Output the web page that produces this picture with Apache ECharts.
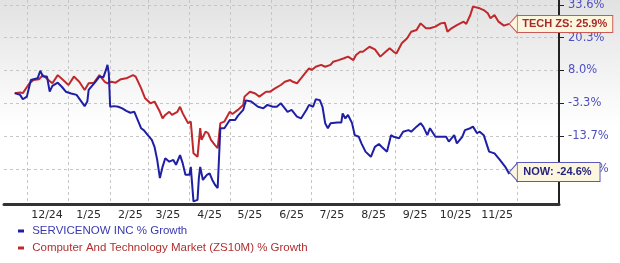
<!DOCTYPE html>
<html>
<head>
<meta charset="utf-8">
<script src="https://cdn.jsdelivr.net/npm/echarts@6/dist/echarts.min.js"></script>
<style>
html,body{margin:0;padding:0;background:#fff;}
#chart{width:620px;height:263px;}
</style>
</head>
<body>
<div id="chart"></div>
<script>
// ---------------- data ----------------
const yTickValues = [-23.2, -13.7, -3.3, 8.0, 20.3, 33.6];
const yTickLabels = ['-23.2%', '-13.7%', '-3.3%', '8.0%', '20.3%', '33.6%'];

const nowName = 'SERVICENOW INC % Growth';
const techName = 'Computer And Technology Market (ZS10M) % Growth';

const nowDates = ['2024-11-22','2024-11-26','2024-11-28','2024-12-01','2024-12-04','2024-12-06','2024-12-09','2024-12-11','2024-12-13','2024-12-16','2024-12-18','2024-12-20','2024-12-24','2024-12-27','2024-12-30','2025-01-03','2025-01-07','2025-01-13','2025-01-15','2025-01-16','2025-01-21','2025-01-24','2025-01-27','2025-01-29','2025-01-30','2025-01-31','2025-02-01','2025-02-04','2025-02-07','2025-02-10','2025-02-13','2025-02-16','2025-02-19','2025-02-22','2025-02-24','2025-02-26','2025-03-01','2025-03-04','2025-03-06','2025-03-08','2025-03-10','2025-03-12','2025-03-14','2025-03-17','2025-03-20','2025-03-22','2025-03-25','2025-03-27','2025-03-29','2025-04-01','2025-04-02','2025-04-04','2025-04-07','2025-04-08','2025-04-09','2025-04-11','2025-04-14','2025-04-16','2025-04-18','2025-04-20','2025-04-22','2025-04-24','2025-04-27','2025-05-01','2025-05-05','2025-05-07','2025-05-11','2025-05-13','2025-05-17','2025-05-22','2025-05-26','2025-05-29','2025-06-02','2025-06-05','2025-06-08','2025-06-11','2025-06-13','2025-06-16','2025-06-20','2025-06-23','2025-06-27','2025-06-29','2025-07-02','2025-07-04','2025-07-07','2025-07-09','2025-07-11','2025-07-13','2025-07-15','2025-07-20','2025-07-23','2025-07-24','2025-07-26','2025-07-28','2025-07-31','2025-08-02','2025-08-05','2025-08-07','2025-08-10','2025-08-14','2025-08-17','2025-08-20','2025-08-22','2025-08-26','2025-08-29','2025-08-31','2025-09-04','2025-09-07','2025-09-11','2025-09-13','2025-09-17','2025-09-20','2025-09-22','2025-09-25','2025-09-27','2025-10-01','2025-10-05','2025-10-09','2025-10-11','2025-10-15','2025-10-17','2025-10-21','2025-10-23','2025-10-27','2025-10-29','2025-11-01','2025-11-03','2025-11-06','2025-11-08','2025-11-10','2025-11-14','2025-11-18','2025-11-22','2025-11-25'];
const nowValues = [0.2,-0.4,-1.9,-1.0,4.7,5.0,5.3,7.9,5.9,5.9,0.7,2.7,3.8,2.4,0.7,0.1,-0.4,-4.2,-2.7,1.3,4.1,5.9,5.7,8.4,10.1,7.0,-4.4,-4.2,-4.4,-4.9,-5.7,-6.3,-6.0,-9.1,-11.2,-11.8,-13.4,-14.8,-16.8,-20.6,-25.7,-22.6,-20.1,-21.1,-20.6,-22.0,-19.2,-21.6,-24.8,-24.8,-22.6,-32.0,-31.6,-25.7,-22.6,-26.2,-24.8,-24.4,-26.2,-27.5,-28.4,-11.2,-11.2,-8.6,-8.6,-7.3,-5.4,-2.3,-2.7,-4.4,-4.9,-3.8,-4.4,-4.4,-3.3,-4.9,-6.0,-5.4,-7.5,-8.1,-5.4,-3.8,-4.4,-1.9,-2.2,-4.4,-9.6,-11.2,-9.6,-9.4,-9.4,-6.5,-8.1,-7.0,-9.6,-13.4,-13.9,-15.8,-18.2,-19.7,-16.8,-16.0,-16.8,-18.2,-13.4,-13.9,-14.3,-12.3,-11.8,-12.3,-10.7,-9.6,-10.7,-13.4,-11.2,-13.9,-13.9,-13.9,-15.3,-13.4,-15.8,-13.9,-11.8,-11.2,-10.7,-12.8,-12.3,-13.4,-15.8,-18.2,-18.7,-20.6,-22.6,-24.6];

const techDates = ['2024-11-22','2024-11-26','2024-11-28','2024-12-03','2024-12-06','2024-12-10','2024-12-13','2024-12-17','2024-12-20','2024-12-24','2024-12-28','2025-01-01','2025-01-05','2025-01-09','2025-01-13','2025-01-16','2025-01-20','2025-01-24','2025-01-28','2025-01-30','2025-02-02','2025-02-05','2025-02-09','2025-02-13','2025-02-18','2025-02-20','2025-02-24','2025-02-27','2025-03-03','2025-03-06','2025-03-10','2025-03-12','2025-03-14','2025-03-17','2025-03-19','2025-03-23','2025-03-25','2025-03-27','2025-03-31','2025-04-02','2025-04-04','2025-04-07','2025-04-08','2025-04-09','2025-04-10','2025-04-13','2025-04-15','2025-04-17','2025-04-20','2025-04-22','2025-04-24','2025-04-27','2025-05-01','2025-05-03','2025-05-07','2025-05-11','2025-05-12','2025-05-16','2025-05-20','2025-05-23','2025-05-28','2025-05-31','2025-06-04','2025-06-08','2025-06-11','2025-06-15','2025-06-17','2025-06-20','2025-06-23','2025-06-27','2025-06-29','2025-07-01','2025-07-04','2025-07-08','2025-07-11','2025-07-15','2025-07-17','2025-07-21','2025-07-25','2025-07-28','2025-08-01','2025-08-03','2025-08-06','2025-08-08','2025-08-13','2025-08-17','2025-08-21','2025-08-25','2025-08-28','2025-08-31','2025-09-02','2025-09-06','2025-09-10','2025-09-13','2025-09-17','2025-09-20','2025-09-24','2025-09-27','2025-10-01','2025-10-05','2025-10-08','2025-10-10','2025-10-13','2025-10-17','2025-10-22','2025-10-24','2025-10-27','2025-10-29','2025-11-03','2025-11-06','2025-11-09','2025-11-11','2025-11-14','2025-11-17','2025-11-21','2025-11-25'];
const techValues = [0.2,0.4,0.2,3.6,4.7,5.0,6.4,4.7,3.6,6.4,4.7,3.0,5.9,4.1,1.3,3.6,3.8,6.4,4.1,3.6,4.1,3.8,5.0,5.3,6.4,5.9,1.9,-1.6,-3.3,-2.7,-6.0,-8.1,-7.0,-6.0,-7.0,-6.0,-4.4,-6.5,-9.6,-9.1,-18.7,-19.7,-19.2,-11.2,-14.8,-12.3,-12.8,-14.8,-16.3,-17.2,-9.6,-9.1,-6.0,-6.7,-5.4,-3.8,-1.0,0.7,0.1,-1.0,0.7,0.7,1.9,3.0,4.1,4.7,4.1,3.6,5.3,7.6,8.8,8.2,9.4,10.1,9.4,10.1,11.3,11.9,12.6,13.2,11.9,13.8,15.0,15.0,16.9,15.9,13.2,15.0,16.3,15.0,14.4,18.2,20.1,22.7,23.4,26.1,24.1,24.1,24.8,26.1,26.4,22.7,24.1,25.4,26.8,25.9,29.5,32.9,32.2,31.5,30.2,28.2,29.5,26.8,25.2,25.9];

// ---------------- helpers ----------------
function fmt(d) {
  const m = d.getUTCMonth() + 1, day = d.getUTCDate();
  return d.getUTCFullYear() + '-' + (m < 10 ? '0' : '') + m + '-' + (day < 10 ? '0' : '') + day;
}
const cats = [];
for (let t = Date.UTC(2024, 10, 14); t <= Date.UTC(2026, 0, 1); t += 86400000) cats.push(fmt(new Date(t)));

// map a growth % onto the chart's (non-uniform) tick scale: one unit per labelled tick
function toUnit(g) {
  const T = yTickValues;
  if (g <= T[0]) return (g - T[0]) / 8.9;
  if (g >= T[T.length - 1]) return T.length - 1 + (g - T[T.length - 1]) / 14;
  for (let i = 0; i < T.length - 1; i++) {
    if (g <= T[i + 1]) return i + (g - T[i]) / (T[i + 1] - T[i]);
  }
}
const tickIdx = yTickValues.map((v, i) => i);

const nowData = nowDates.map((d, i) => [d, toUnit(nowValues[i])]);
const techData = techDates.map((d, i) => [d, toUnit(techValues[i])]);
const nowLast = nowValues[nowValues.length - 1];
const techLast = techValues[techValues.length - 1];

const BLUE = '#1f1fa6', RED = '#c0282c', CREAM = '#fdf6df';

function notch(border, data, dy) {
  const last = data[data.length - 1];
  return {
    silent: true, animation: false,
    symbol: 'triangle', symbolSize: [18, 8], symbolRotate: 90, symbolOffset: [4, dy],
    itemStyle: { color: CREAM, borderColor: border, borderWidth: 1 },
    label: { show: false },
    data: [{ coord: [last[0], last[1]] }]
  };
}

const chart = echarts.init(document.getElementById('chart'), null, { renderer: 'canvas' });
chart.setOption({
  animation: false,
  backgroundColor: {
    type: 'linear', x: 0, y: 0, x2: 0, y2: 1,
    colorStops: [{ offset: 0, color: '#e2e2e2' }, { offset: 0.48, color: '#ffffff' }, { offset: 1, color: '#ffffff' }]
  },
  grid: { left: 4, right: 61, top: 0, bottom: 59, containLabel: false, outerBoundsMode: 'none' },
  legend: {
    orient: 'vertical', left: 18, top: 224, padding: 0, itemGap: 3,
    icon: 'rect', itemWidth: 6, itemHeight: 3,
    formatter: (n) => ' ' + n,
    textStyle: { fontFamily: 'Liberation Sans, Arial', fontSize: 11.5, lineHeight: 14 },
    data: [
      { name: nowName, textStyle: { color: '#3a3ab0' } },
      { name: techName, textStyle: { color: '#b03030' } }
    ]
  },
  xAxis: {
    type: 'category', data: cats, boundaryGap: false,
    axisLine: { show: true, onZero: false, lineStyle: { color: '#333', width: 3 } },
    axisTick: { show: false },
    axisLabel: {
      interval: (i, v) => v.slice(8) === '16' && v >= '2024-12-01' && v <= '2025-11-30',
      formatter: (v) => (+v.slice(5, 7)) + '/' + v.slice(2, 4),
      color: '#2a2a2a', fontFamily: 'DejaVu Sans', fontSize: 11, margin: 6
    },
    splitLine: {
      show: true,
      interval: (i, v) => v.slice(8) === '01',
      lineStyle: { color: '#c6c6c6', type: [3, 3], width: 1 }
    }
  },
  yAxis: {
    type: 'value', position: 'right', min: -1.07, max: 5.149, scale: true,
    axisLine: { show: true, onZero: false, lineStyle: { color: '#222', width: 2 } },
    axisTick: { show: true, customValues: tickIdx, length: 5, lineStyle: { color: '#222', width: 1 } },
    axisLabel: {
      customValues: tickIdx,
      formatter: (v) => yTickLabels[Math.round(v)],
      color: '#4f4fbf', fontFamily: 'DejaVu Sans', fontSize: 11.5, margin: 9
    },
    splitLine: { show: true, lineStyle: { color: '#c6c6c6', type: [3, 3], width: 1 } }
  },
  series: [
    {
      name: techName, type: 'line', data: techData, showSymbol: false, symbol: 'none',
      color: RED, lineStyle: { color: RED, width: 2 },
      endLabel: {
        show: true, distance: 8,
        formatter: () => 'TECH ZS: ' + techLast.toFixed(1) + '%',
        color: '#a52a2a', fontFamily: 'Liberation Sans, Arial', fontWeight: 'bold', fontSize: 11,
        backgroundColor: CREAM, borderColor: '#c85a5a', borderWidth: 1, padding: [3, 5, 2, 5]
      },
      markPoint: notch('#c85a5a', techData, 0)
    },
    {
      name: nowName, type: 'line', data: nowData, showSymbol: false, symbol: 'none',
      color: BLUE, lineStyle: { color: BLUE, width: 2 },
      endLabel: {
        show: true, distance: 8, offset: [0, -2],
        formatter: () => 'NOW: ' + nowLast.toFixed(1) + '%',
        color: '#24247e', fontFamily: 'Liberation Sans, Arial', fontWeight: 'bold', fontSize: 11,
        backgroundColor: CREAM, borderColor: '#5a5ab8', borderWidth: 1, padding: [4, 8, 3, 6]
      },
      markPoint: notch('#5a5ab8', nowData, -2)
    }
  ]
});
</script>
</body>
</html>
